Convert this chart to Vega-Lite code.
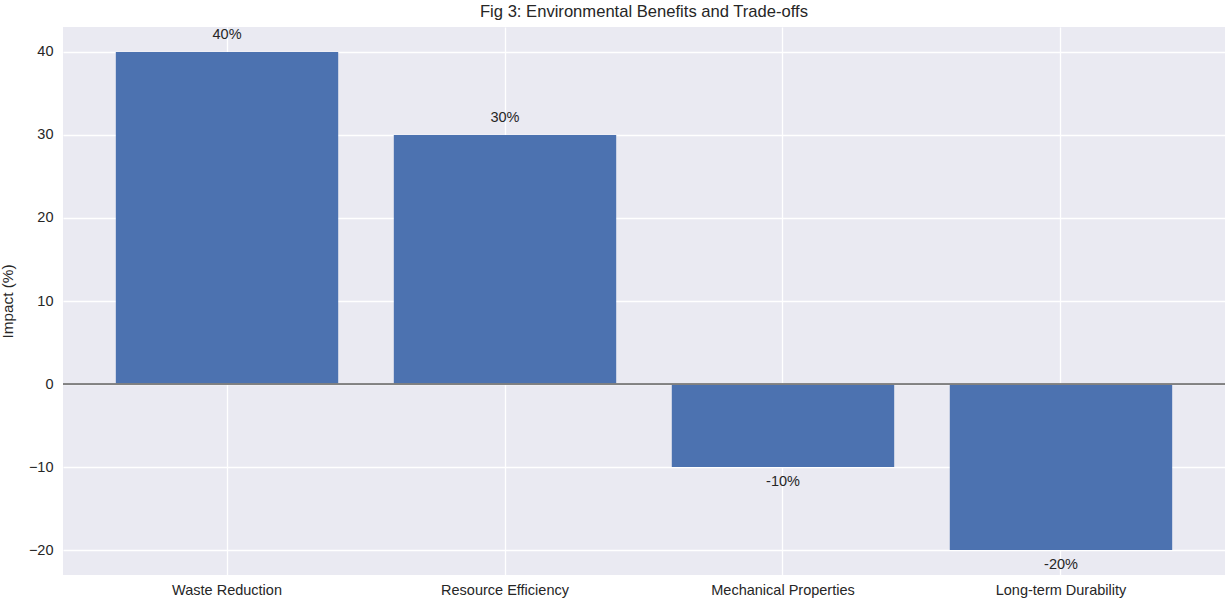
{
  "$schema": "https://vega.github.io/schema/vega-lite/v6.json",
  "width": 1162,
  "height": 548,
  "autosize": "none",
  "padding": {"left": 63, "top": 27, "right": 0, "bottom": 28},
  "background": "white",
  "title": {
    "text": "Fig 3: Environmental Benefits and Trade-offs",
    "font": "Liberation Sans",
    "fontSize": 16.6,
    "fontWeight": "normal",
    "color": "#262626",
    "anchor": "middle",
    "offset": 6
  },
  "data": {
    "values": [
      {"category": "Waste Reduction", "impact": 40, "label": "40%"},
      {"category": "Resource Efficiency", "impact": 30, "label": "30%"},
      {"category": "Mechanical Properties", "impact": -10, "label": "-10%"},
      {"category": "Long-term Durability", "impact": -20, "label": "-20%"}
    ]
  },
  "config": {
    "view": {"fill": "#EAEAF2", "stroke": null},
    "font": "Liberation Sans",
    "axis": {
      "grid": true,
      "gridColor": "white",
      "gridWidth": 1.3,
      "domain": false,
      "ticks": false,
      "labelFont": "Liberation Sans",
      "labelFontSize": 14.5,
      "labelColor": "#262626",
      "titleFont": "Liberation Sans",
      "titleFontSize": 15.3,
      "titleFontWeight": "normal",
      "titleColor": "#262626"
    }
  },
  "encoding": {
    "x": {
      "field": "category",
      "type": "nominal",
      "sort": null,
      "scale": {"paddingInner": 0.2, "paddingOuter": 0.19},
      "axis": {"title": null, "labelAngle": 0, "labelPadding": 8, "grid": true}
    }
  },
  "layer": [
    {
      "mark": {"type": "bar", "color": "#4C72B0"},
      "encoding": {
        "y": {
          "field": "impact",
          "type": "quantitative",
          "scale": {"domain": [-23, 43], "nice": false, "zero": false},
          "axis": {"title": "Impact (%)", "values": [-20, -10, 0, 10, 20, 30, 40], "labelPadding": 10, "titlePadding": 13}
        }
      }
    },
    {
      "mark": {"type": "rule", "color": "#808080", "strokeWidth": 1.2},
      "encoding": {"y": {"datum": 0, "type": "quantitative"}, "x": {}}
    },
    {
      "transform": [{"filter": "datum.impact > 0"}],
      "mark": {"type": "text", "baseline": "bottom", "dy": -10, "fontSize": 14.5, "color": "#262626", "font": "Liberation Sans"},
      "encoding": {
        "y": {"field": "impact", "type": "quantitative"},
        "text": {"field": "label"}
      }
    },
    {
      "transform": [{"filter": "datum.impact < 0"}],
      "mark": {"type": "text", "baseline": "top", "dy": 8, "fontSize": 14.5, "color": "#262626", "font": "Liberation Sans"},
      "encoding": {
        "y": {"field": "impact", "type": "quantitative"},
        "text": {"field": "label"}
      }
    }
  ]
}
